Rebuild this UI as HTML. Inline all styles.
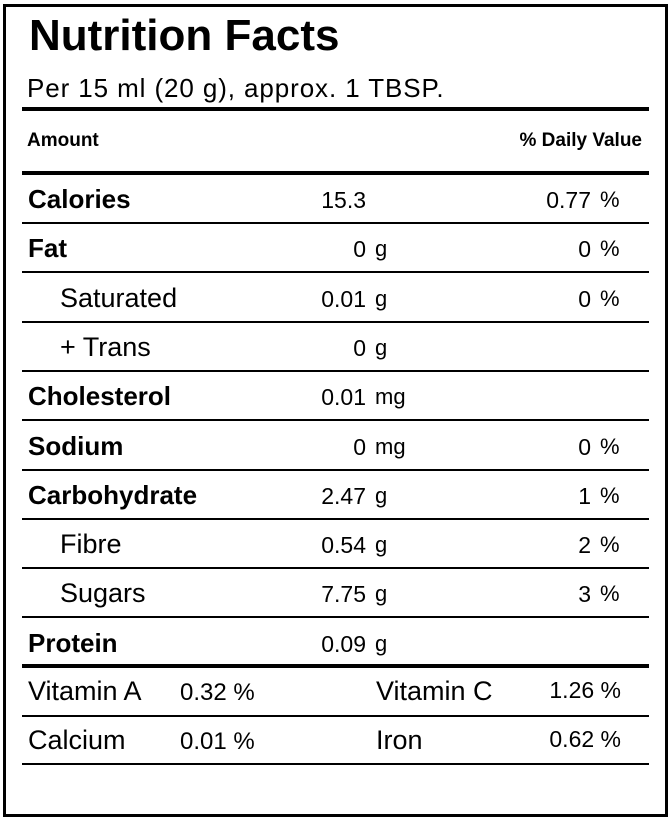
<!DOCTYPE html>
<html><head><meta charset="utf-8"><style>
body{margin:0;width:671px;height:822px;background:#fff;font-family:"Liberation Sans",Arial,sans-serif;color:#000;position:relative;overflow:hidden}
.abs{position:absolute;white-space:nowrap}
.line{position:absolute;left:22px;width:627px;background:#000}
.lbl{position:absolute;font-size:27px;line-height:30px;white-space:nowrap}
.b{font-weight:bold}
.num{position:absolute;font-size:23px;line-height:26px;text-align:right;width:100px}
.unit{position:absolute;font-size:22px;line-height:26px;white-space:nowrap}
</style></head><body>
<div style="position:absolute;left:3px;top:4px;width:659px;height:807px;border:3px solid #000"></div>
<div class="abs b" style="left:29px;top:11px;font-size:44px;line-height:50px">Nutrition Facts</div>
<div class="abs" style="left:27px;top:73px;font-size:26px;line-height:30px;letter-spacing:0.9px">Per 15 ml (20 g), approx. 1 TBSP.</div>
<div class="line" style="top:107px;height:4px"></div>
<div class="abs b" style="left:27px;top:129px;font-size:19px;line-height:24px">Amount</div>
<div class="abs b" style="right:29px;top:129px;font-size:19px;line-height:24px">% Daily Value</div>
<div class="line" style="top:171px;height:4px"></div>
<div id="rows"></div>
<div class="line" style="top:664px;height:4px"></div>
<div class="lbl" style="left:28px;top:676px">Vitamin A</div>
<div class="unit" style="left:180px;top:680px;font-size:24px">0.32 %</div>
<div class="lbl" style="left:376px;top:676px">Vitamin C</div>
<div class="unit" style="right:50px;top:677px;font-size:23px">1.26 %</div>
<div class="line" style="top:715px;height:2px"></div>
<div class="lbl" style="left:28px;top:725px">Calcium</div>
<div class="unit" style="left:180px;top:729px;font-size:24px">0.01 %</div>
<div class="lbl" style="left:376px;top:725px">Iron</div>
<div class="unit" style="right:50px;top:726px;font-size:23px">0.62 %</div>
<div class="line" style="top:763px;height:2px"></div>
<script>
const names=["Calories","Fat","Saturated","+ Trans","Cholesterol","Sodium","Carbohydrate","Fibre","Sugars","Protein"];
const bold=[1,1,0,0,1,1,1,0,0,1];
const amounts=["15.3","0","0.01","0","0.01","0","2.47","0.54","7.75","0.09"];
const units=["","g","g","g","mg","mg","g","g","g","g"];
const dv=["0.77","0","0","","","0","1","2","3",""];
const root=document.getElementById('rows');
names.forEach((n,i)=>{
  const top=177+i*49.3;
  const l=document.createElement('div');
  l.className='lbl'+(bold[i]?' b':'');
  l.style.left=(bold[i]?28:60)+'px';l.style.top=(top+7)+'px';
  if(bold[i]) l.style.fontSize='26px';
  l.textContent=n;
  
  
  root.appendChild(l);
  const a=document.createElement('div');
  a.className='num';a.style.left='266px';a.style.top=(top+10)+'px';a.textContent=amounts[i];
  
  
  root.appendChild(a);
  if(units[i]){
    const u=document.createElement('div');
    u.className='unit';u.style.left='375px';u.style.top=(top+10)+'px';u.textContent=units[i];
    
    
    root.appendChild(u);
  }
  if(dv[i]){
    const d=document.createElement('div');
    d.className='num';d.style.left='491px';d.style.top=(top+10)+'px';d.textContent=dv[i];
    
    
    root.appendChild(d);
    const p=document.createElement('div');
    p.className='unit';p.style.left='600px';p.style.top=(top+10)+'px';p.textContent='%';
    
    
    root.appendChild(p);
  }
  if(i<names.length-1){
    const r=document.createElement('div');
    r.className='line';r.style.top=(top+45)+'px';r.style.height='2px';
    
    
    root.appendChild(r);
  }
});
</script>
</body></html>
